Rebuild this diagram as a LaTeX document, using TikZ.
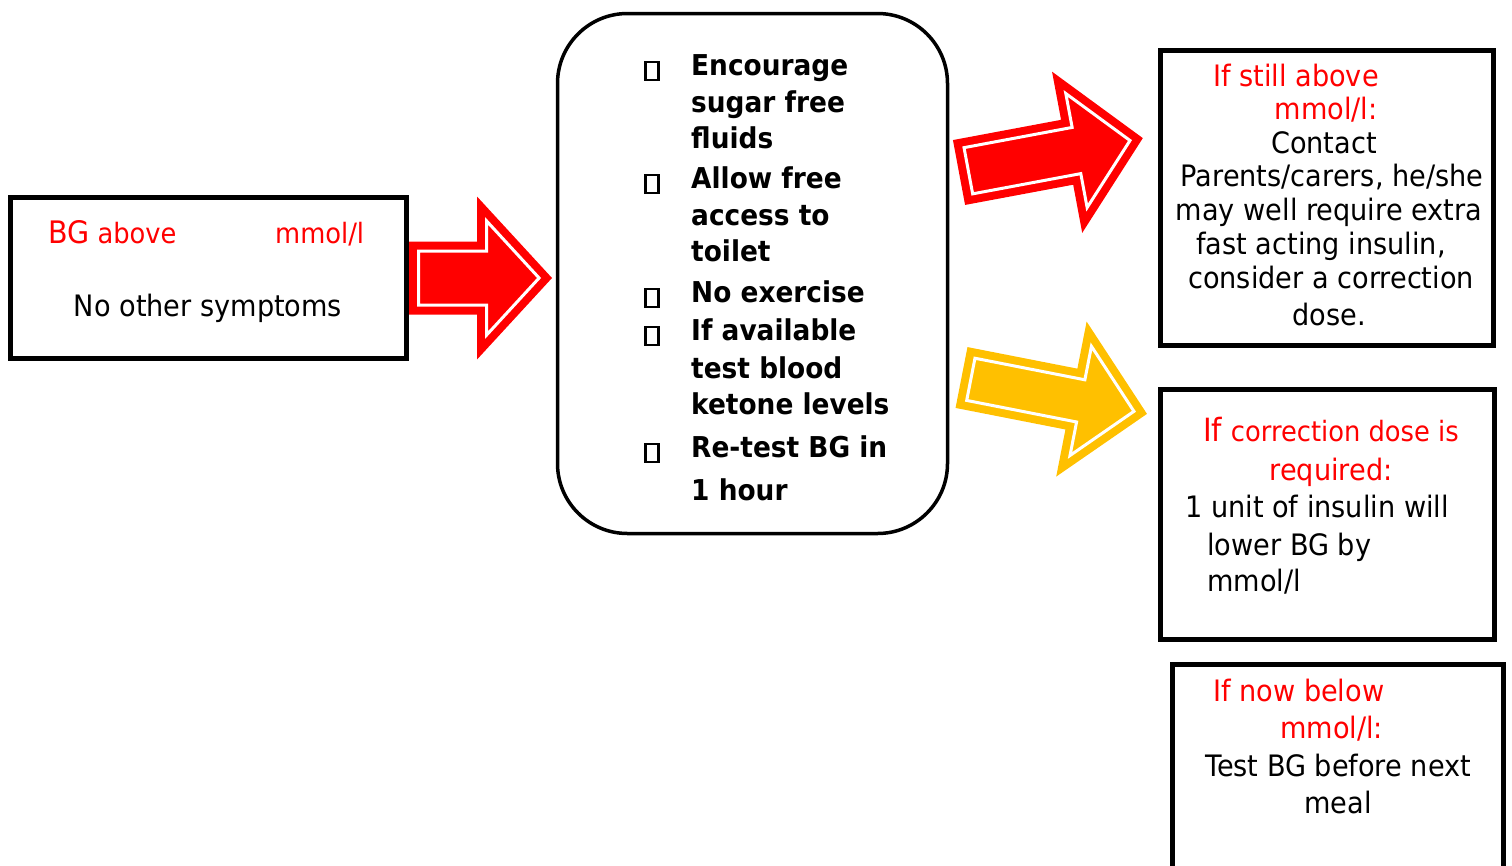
\documentclass[tikz,border=0pt]{standalone}
\usepackage{fontspec}
\setmainfont{DejaVu Sans}[FakeStretch=0.92]
\definecolor{alertred}{RGB}{255,0,0}
\definecolor{amber}{RGB}{255,192,0}

% fat block arrow: colour, tail centre, angle, length, shaft half width, head length, head half width
\newcommand\fatarrow[7]{%
  \pgfmathsetmacro\inset{9.5}%
  \pgfmathsetmacro\tipback{\inset/sin(atan(#7/#6))}%
  \pgfmathsetmacro\headx{#4-#6+\inset}%
  \pgfmathsetmacro\shafthw{#5-\inset}%
  \pgfmathsetmacro\headhw{(#6-\inset-\tipback)*#7/#6}%
  \pgfmathsetmacro\tipx{#4-\tipback}%
  \draw[shift={#2},rotate=#3,blockarrow=#1]
    (\inset,-\shafthw) -- (\headx,-\shafthw) -- (\headx,-\headhw) -- (\tipx,0)
    -- (\headx,\headhw) -- (\headx,\shafthw) -- (\inset,\shafthw) -- cycle;}

\tikzset{
  blockarrow/.style={fill=#1,draw=#1,double=white,double distance=3,line width=8,line join=miter},
  box/.style={draw,line width=5,inner sep=0},
  txt/.style={font=\fontsize{29.5}{34}\selectfont,inner sep=0,anchor=base},
  item/.style={font=\bfseries\fontsize{28.7}{37}\selectfont,inner sep=0,anchor=base west},
  bullet/.style={draw,line width=2.5,minimum width=13,minimum height=18,inner sep=0}
}

\begin{document}
\begin{tikzpicture}[x=1pt,y=-1pt]
\useasboundingbox (0,0) rectangle (1512,865);

% starting condition
\node[box,minimum width=396,minimum height=161] (bg) at (208.5,278) {};
\node[txt,anchor=base west,text=alertred] (bgabove) at (48,243)
  {\fontsize{28}{32}\selectfont{\fontsize{31}{36}\selectfont BG} above};
\node[txt,anchor=base west,text=alertred,font=\fontsize{28}{32}\selectfont] (bgunit) at (275,243) {mmol/l};
\node[txt] (nosympt) at (208,316) {No other symptoms};

\fatarrow{alertred}{(bg.east)}{0}{143}{36.5}{75}{81.5}

% actions
\node[draw,line width=3.5,rounded corners=70,minimum width=390,minimum height=520,inner sep=0] (act) at (752.5,273.5) {};
\foreach \y in {75,188,302,340,457}
  \node[bullet] (dot\y) at (652,\y-4) {};
\foreach \y/\t in {75/Encourage,112/sugar free,148/fluids,188/Allow free,225/access to,261/toilet,
                   302/No exercise,340/If available,378/test blood,414/ketone levels,457/Re-test BG in,500/1 hour}
  \node[item] (line\y) at (691,\y) {\t};

\fatarrow{alertred}{(959,172.5)}{10.6}{187}{33}{77}{82}
\fatarrow{amber}{(961.5,377.5)}{-11.1}{189}{31}{77}{79}

% still high
\node[box,minimum width=333,minimum height=295] (high) at (1327,198) {};
\node[txt,text=alertred] (high1) at (1296,86) {If still above};
\node[txt,text=alertred] (high2) at (1326,119) {mmol/l:};
\foreach \y/\x/\t in {153/1324/Contact,186/1332/{Parents/carers, he/she},220/1329/may well require extra,
                      254/1321/{fast acting insulin,},288/1331/consider a correction,325/1329/dose.}
  \node[txt] (high\y) at (\x,\y) {\t};

% correction dose
\node[box,minimum width=334,minimum height=250] (corr) at (1327.5,514.5) {};
\node[txt,text=alertred] (corr1) at (1331,441)
  {{\fontsize{32}{36}\selectfont If} \fontsize{28}{34}\selectfont correction dose is};
\node[txt,text=alertred] (corr2) at (1331,480) {required:};
\node[txt,anchor=base west] (corr3) at (1185,517) {1 unit of insulin will};
\node[txt,anchor=base west] (corr4) at (1207,555) {lower BG by};
\node[txt,anchor=base west] (corr5) at (1207,591) {mmol/l};

% now low
\draw[line width=5] (1172.5,866) |- (1503.5,664.5) -- (1503.5,866);
\node[txt,anchor=base west,text=alertred] (low1) at (1213,701) {If now below};
\node[txt,anchor=base west,text=alertred] (low2) at (1280,738) {mmol/l:};
\node[txt] (low3) at (1338,776) {Test BG before next};
\node[txt] (low4) at (1338,813) {meal};
\end{tikzpicture}
\end{document}
